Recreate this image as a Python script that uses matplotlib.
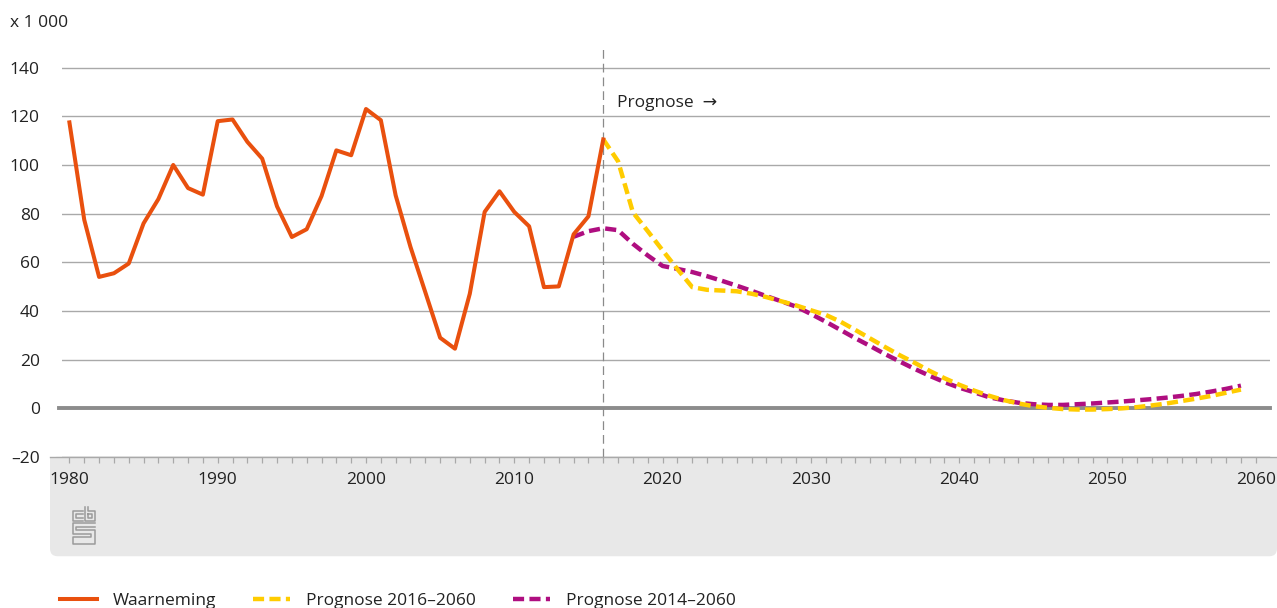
import matplotlib
matplotlib.use("Agg")
import matplotlib.pyplot as plt
import numpy as np
from matplotlib.lines import Line2D
from matplotlib.patches import FancyBboxPatch, Rectangle
from matplotlib.ticker import FixedLocator, FuncFormatter

# Data (x 1 000)
obs_years = list(range(1980, 2017))
obs_values = [117.5, 77.5, 54.0, 55.5, 59.5, 76.0, 86.0, 100.0, 90.5, 87.8,
              118.0, 118.7, 109.5, 102.6, 83.0, 70.4, 73.6, 87.2, 106.0, 104.0,
              123.0, 118.4, 87.5, 66.3, 47.7, 29.0, 24.5, 47.1, 80.7, 89.2,
              80.7, 74.8, 49.8, 50.1, 71.5, 78.9, 110.5]

prog16_years = list(range(2016, 2060))
prog16_values = [110.5, 101.5, 80.5, 72.8, 64.9, 57.2, 49.8, 48.7, 48.4, 48.1,
                 47.1, 45.7, 44.0, 42.3, 40.3, 38.4, 35.6, 32.2, 28.7, 25.2,
                 21.8, 18.7, 15.4, 12.4, 9.7, 7.3, 5.2, 3.4, 2.0, 0.9,
                 0.2, -0.3, -0.5, -0.5, -0.3, 0.0, 0.5, 1.2, 2.0, 3.0,
                 4.0, 5.1, 6.4, 7.7]

prog14_years = list(range(2014, 2060))
prog14_values = [70.5, 72.8, 74.0, 73.2, 67.6, 62.8, 58.5, 57.3, 56.0, 54.3,
                 52.4, 50.4, 48.3, 46.1, 44.0, 41.8, 38.8, 35.6, 32.2, 28.8,
                 25.6, 22.3, 19.2, 16.2, 13.4, 10.8, 8.5, 6.6, 4.6, 3.3,
                 2.3, 1.7, 1.4, 1.4, 1.7, 2.0, 2.4, 2.8, 3.3, 3.8,
                 4.4, 5.1, 5.9, 6.9, 8.0, 9.3]

y_ticks = [-20, 0, 20, 40, 60, 80, 100, 120, 140]
x_ticks = [1980, 1990, 2000, 2010, 2020, 2030, 2040, 2050, 2060]

ORANGE = "#e9500e"
YELLOW = "#ffcc00"
PURPLE = "#af0e80"
GRID = "#a9a9a9"
TXT = "#222222"
FS = 12.5

plt.rcParams["font.family"] = ["Open Sans", "DejaVu Sans"]
plt.rcParams["font.size"] = FS

W, H = 1277, 608
fig = plt.figure(figsize=(W / 100, H / 100), dpi=100)


def fx(x):
    return x / W


def fy(y):
    return 1 - y / H


# grey band under the axis, rounded at the bottom
band = FancyBboxPatch((fx(50) + 0.004, fy(556) + 0.008), fx(1277 - 50) - 0.008, fy(457) - fy(556) - 0.016,
                      boxstyle="round,pad=0.004,rounding_size=0.006", transform=fig.transFigure,
                      facecolor="#e8e8e8", edgecolor="none", mutation_aspect=W / H, zorder=0)
fig.add_artist(band)
fig.add_artist(Rectangle((fx(50), fy(500)), fx(1277 - 50), fy(457) - fy(500), transform=fig.transFigure,
                         facecolor="#e8e8e8", edgecolor="none", zorder=0))
fig.add_artist(Line2D([fx(50), fx(1277)], [fy(457), fy(457)], transform=fig.transFigure,
                      color=GRID, lw=1, zorder=1))

ax = fig.add_axes([fx(62), fy(457), fx(1270 - 62), fy(45) - fy(457)])
ax.set_facecolor("none")
ax.set_xlim(1979.5, 2060.96)
ax.set_ylim(-20, 149.3)
for s in ax.spines.values():
    s.set_visible(False)

ax.yaxis.set_major_locator(FixedLocator(y_ticks))
ax.yaxis.set_major_formatter(FuncFormatter(lambda v, p: f"{v:.0f}".replace("-", "\u2013")))
ax.tick_params(axis="y", length=0, pad=16, labelsize=FS, labelcolor=TXT)
ax.grid(axis="y", color=GRID, lw=1)
ax.set_axisbelow(True)

ax.xaxis.set_major_locator(FixedLocator(x_ticks))
ax.xaxis.set_minor_locator(FixedLocator(range(1980, 2061)))
ax.tick_params(axis="x", which="both", direction="out", length=4.5, width=0.9, color=GRID,
               pad=6, labelsize=FS, labelcolor=TXT)

ax.axhline(0, xmin=-3 / 1208, color="#8c8c8c", lw=2.8, clip_on=False, zorder=2)
ax.axvline(2016, color="#8a8a8a", lw=0.9, dashes=(7, 4), zorder=2)

ax.plot(prog14_years, prog14_values, color=PURPLE, lw=3.2, dashes=(2.5, 1.2),
        label="Prognose 2014\u20132060", zorder=3)
ax.plot(prog16_years, prog16_values, color=YELLOW, lw=3.2, dashes=(2.5, 1.2),
        label="Prognose 2016\u20132060", zorder=4)
ax.plot(obs_years, obs_values, color=ORANGE, lw=2.9, label="Waarneming", zorder=5)

ax.annotate("Prognose  \u2192", xy=(2016, 125.6), xytext=(10, 0), textcoords="offset points",
            va="center", ha="left", fontsize=FS, color=TXT)

fig.text(fx(10), fy(23), "x 1 000", ha="left", va="center", fontsize=FS, color=TXT)

# cbs logo, drawn as thin outlines
logo_paths = [
    [(83, 511), (73, 511), (73, 521), (83, 521)],
    [(83, 514), (76, 514), (76, 518), (83, 518)],
    [(85, 507), (85, 521), (95, 521), (95, 511), (88, 511), (88, 507)],
    [(88, 514), (92, 514), (92, 518), (88, 518), (88, 514)],
    [(95, 523), (73, 523), (73, 534), (91, 534), (91, 537), (73, 537), (73, 544), (95, 544),
     (95, 530), (76, 530), (76, 527), (95, 527)],
]
for pts in logo_paths:
    xs = [fx(p[0]) for p in pts]
    ys = [fy(p[1]) for p in pts]
    fig.add_artist(Line2D(xs, ys, transform=fig.transFigure, color="#9a9a9a", lw=1.1, zorder=1))

handles, labels = ax.get_legend_handles_labels()
order = [2, 1, 0]
ax.legend([handles[i] for i in order], [labels[i] for i in order], loc="center left",
          bbox_to_anchor=(fx(60), fy(601)), bbox_transform=fig.transFigure, ncol=3,
          frameon=False, handlelength=2.13, handletextpad=0.92, columnspacing=2.13,
          borderpad=0, borderaxespad=0, fontsize=FS, labelcolor=TXT)

fig.savefig("out.png", dpi=100)
